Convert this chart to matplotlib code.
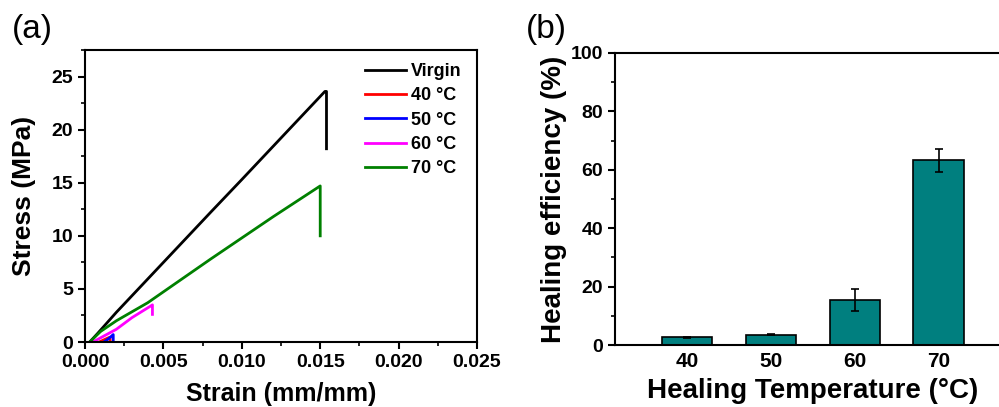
import numpy as np
import matplotlib
matplotlib.use("Agg")
from matplotlib import pyplot as plt
from matplotlib.ticker import MultipleLocator, FormatStrFormatter

plt.rcParams['font.family'] = ['Liberation Sans', 'DejaVu Sans']
plt.rcParams['font.weight'] = 'bold'

# (a) stress-strain curves
virgin_x = [0.0003, 0.0008, 0.002, 0.005, 0.008, 0.010, 0.013, 0.0153, 0.0154, 0.0154]
virgin_y = [0.0, 0.8, 2.8, 7.5, 12.2, 15.3, 20.0, 23.6, 23.6, 18.2]
t40_x = [0.0009, 0.0012, 0.0015, 0.0016, 0.0016]
t40_y = [0.0, 0.2, 0.4, 0.45, 0.0]
t50_x = [0.0012, 0.0015, 0.0018, 0.0018]
t50_y = [0.0, 0.3, 0.7, 0.0]
t60_x = [0.0005, 0.001, 0.002, 0.003, 0.0042, 0.0043, 0.0043]
t60_y = [0.0, 0.4, 1.2, 2.3, 3.4, 3.5, 2.6]
t70_x = [0.0003, 0.001, 0.002, 0.004, 0.008, 0.012, 0.0150, 0.0150]
t70_y = [0.0, 1.0, 2.0, 3.7, 7.8, 11.8, 14.7, 10.0]

# (b) healing efficiency
temps = ['40', '50', '60', '70']
efficiency = [2.6, 3.6, 15.4, 63.2]
eff_err = [0.3, 0.2, 3.7, 3.9]

fig = plt.figure(figsize=(9.99, 4.07), dpi=100)

ax1 = fig.add_axes([0.0851, 0.1597, 0.3924, 0.7174])
ax1.plot(virgin_x, virgin_y, color='black', lw=2, label='Virgin')
ax1.plot(t40_x, t40_y, color='red', lw=2, label='40 °C')
ax1.plot(t50_x, t50_y, color='blue', lw=2, label='50 °C')
ax1.plot(t60_x, t60_y, color='magenta', lw=2, label='60 °C')
ax1.plot(t70_x, t70_y, color='green', lw=2, label='70 °C')
ax1.set_xlim(0, 0.025)
ax1.set_ylim(0, 27.5)
ax1.xaxis.set_major_locator(MultipleLocator(0.005))
ax1.xaxis.set_minor_locator(MultipleLocator(0.0025))
ax1.yaxis.set_major_locator(MultipleLocator(5))
ax1.yaxis.set_minor_locator(MultipleLocator(2.5))
ax1.xaxis.set_major_formatter(FormatStrFormatter('%.3f'))
ax1.set_xlabel('Strain (mm/mm)', fontsize=18, fontweight='bold', labelpad=8)
ax1.set_ylabel('Stress (MPa)', fontsize=19, fontweight='bold', labelpad=11)
leg = ax1.legend(loc='upper left', frameon=False, fontsize=13, handlelength=2.3,
                 handletextpad=0.25, labelspacing=0.4, borderaxespad=0, borderpad=0,
                 bbox_to_anchor=(0.714, 0.955))
for t in leg.get_texts():
    t.set_fontweight('bold')
fig.text(0.012, 1 - 14 / 407, '(a)', fontsize=24, fontweight='normal', va='top')

ax2 = fig.add_axes([0.6156, 0.1523, 0.396, 0.7175])
x = np.arange(1, len(temps) + 1)
ax2.bar(x, efficiency, width=0.6, color='#007f7f', edgecolor='black', lw=1.2,
        yerr=eff_err, capsize=3, error_kw={'elinewidth': 1.2, 'capthick': 1.2})
ax2.set_xticks(x)
ax2.set_xticklabels(temps)
ax2.set_xlim(0.143, 4.857)
ax2.set_ylim(0, 100)
ax2.yaxis.set_major_locator(MultipleLocator(20))
ax2.yaxis.set_minor_locator(MultipleLocator(10))
ax2.set_xlabel('Healing Temperature (°C)', fontsize=20, fontweight='bold', labelpad=5)
ax2.set_ylabel('Healing efficiency (%)', fontsize=20, fontweight='bold', labelpad=3)
fig.text(0.526, 1 - 14 / 407, '(b)', fontsize=24, fontweight='normal', va='top')

for ax in (ax1, ax2):
    for s in ax.spines.values():
        s.set_linewidth(1.5)
    ax.tick_params(which='major', direction='out', length=5, width=1.5, labelsize=14)
    ax.tick_params(which='minor', direction='out', length=3, width=1.2)
    ax.tick_params(top=False, right=False, which='both')
    for lab in ax.get_xticklabels() + ax.get_yticklabels():
        lab.set_fontweight('bold')
ax2.tick_params(axis='x', which='both', length=0, labelsize=15, pad=5)

fig.savefig('out.png', dpi=100)
